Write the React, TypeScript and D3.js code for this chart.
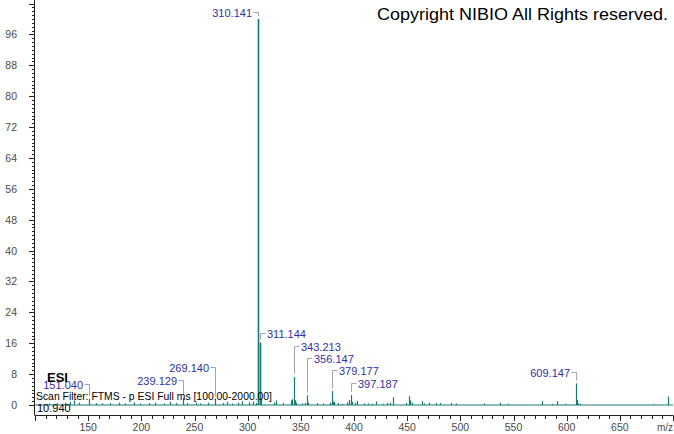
import React from "react";
import * as d3 from "d3";

// ---- data ----
const peakMz = [
  105, 113, 121, 128, 133, 137, 141, 151.04, 157, 163, 171, 179, 185, 193, 199, 207, 213, 221, 227, 233,
  239.129, 243, 251, 255, 263, 269.14, 277, 281, 285, 291, 295, 301, 305, 308, 310.141, 311.144, 312.14,
  325, 327, 333, 341, 342, 343.213, 344.2, 345, 351, 354, 356.147, 357, 365, 371, 377, 379.177, 380.2, 381,
  385, 389, 393, 395, 397.187, 398, 401, 403, 409, 413, 417, 421, 427, 431, 434, 437, 449, 452, 453, 455,
  464, 466, 471, 477, 481, 491, 496, 522, 537, 545, 577, 586, 591, 598, 609.147, 610.15, 611, 613, 681, 695,
];
const peakIntensity = [
  0.3, 0.4, 0.5, 0.6, 0.8, 1.2, 0.6, 1.6, 0.5, 0.4, 0.5, 0.6, 0.4, 0.7, 0.4, 0.5, 0.6, 0.4, 0.8, 0.5,
  1.8, 0.5, 0.6, 0.4, 0.6, 1.4, 0.5, 0.8, 0.4, 0.6, 1.0, 0.7, 0.9, 0.5, 100, 16.2, 1.6,
  0.6, 1.2, 0.5, 1.2, 1.5, 7.3, 1.2, 0.6, 0.4, 0.5, 2.5, 0.6, 0.5, 0.4, 0.6, 3.6, 0.9, 0.8,
  0.5, 0.3, 0.7, 1.3, 2.6, 0.8, 0.6, 1.1, 0.4, 0.4, 0.3, 0.9, 0.3, 0.5, 0.6, 2.0, 0.5, 2.3, 1.2, 0.6,
  1.0, 0.4, 0.6, 0.5, 0.5, 0.5, 0.4, 0.4, 0.6, 0.3, 1.0, 0.3, 1.0, 0.3, 5.6, 1.3, 0.4, 0.3, 0.2, 2.2,
];

const labelMz = [310.141, 311.144, 343.213, 356.147, 379.177, 397.187, 609.147, 269.14, 239.129, 151.04];
const labelPeak = [100, 16.2, 7.3, 2.5, 3.6, 2.6, 5.6, 1.4, 1.8, 1.6];
const labelLevel = [101.8, 18.7, 15.3, 12.2, 9.1, 5.7, 8.5, 9.8, 6.5, 5.4];
const labelSide = ["left", "right", "right", "right", "right", "right", "left", "left", "left", "left"];

const yTicks = [0, 8, 16, 24, 32, 40, 48, 56, 64, 72, 80, 88, 96];
const xTicks = [150, 200, 250, 300, 350, 400, 450, 500, 550, 600, 650];

const W = 674;
const H = 434;

export default function App() {
  const x = d3.scaleLinear().domain([100, 700]).range([35, 673]);
  const y = d3.scaleLinear().domain([0, 100]).range([405, 19]);

  const peakColor = "#167a72";
  const labelColor = "#2f2fa8";
  const bracketColor = "#a2a2b8";
  const axisColor = "#222";
  const tickText = "#4a4a4a";
  const font = "'Liberation Sans', Arial, sans-serif";

  const minorY = d3.range(0, 105, 1);
  const minorX = d3.range(100, 701, 10);

  return (
    <svg
      width={W}
      height={H}
      style={{ position: "absolute", left: 0, top: 0, background: "#fff" }}
      fontFamily={font}
    >
      <rect x={0} y={0} width={W} height={H} fill="#fff" />

      {/* baseline */}
      <line x1={x(100)} x2={x(700)} y1={y(0)} y2={y(0)} stroke={peakColor} strokeWidth={1} />
      {/* peaks */}
      {peakMz.map((m, i) => (
        <line
          key={"p" + i}
          x1={Math.round(x(m)) + 0.5}
          x2={Math.round(x(m)) + 0.5}
          y1={y(0)}
          y2={y(peakIntensity[i])}
          stroke={peakColor}
          strokeWidth={peakIntensity[i] > 10 ? 1.6 : 1.2}
        />
      ))}

      {/* labels with brackets */}
      {labelMz.map((m, i) => {
        const px = Math.round(x(m)) + 0.5;
        const ly = Math.round(y(labelLevel[i])) + 0.5;
        const top = y(labelPeak[i]) - 3;
        const left = labelSide[i] === "left";
        const hx = left ? px - 5 : px + 5;
        return (
          <g key={"l" + i}>
            <path
              d={`M${hx},${ly}H${px}V${Math.max(top, ly)}`}
              fill="none"
              stroke={bracketColor}
              strokeWidth={1}
            />
            <text
              x={left ? hx - 1.5 : hx + 1.5}
              y={ly + 4}
              textAnchor={left ? "end" : "start"}
              fontSize={11}
              fill={labelColor}
            >
              {m.toFixed(3)}
            </text>
          </g>
        );
      })}

      {/* y axis */}
      <line x1={34.5} x2={34.5} y1={0} y2={415} stroke={axisColor} strokeWidth={1} />
      {minorY.map((v) => (
        <line
          key={"my" + v}
          x1={v % 8 === 0 ? 29 : 32}
          x2={34.5}
          y1={Math.round(y(v)) + 0.5}
          y2={Math.round(y(v)) + 0.5}
          stroke={axisColor}
          strokeWidth={1}
        />
      ))}
      {yTicks.map((v) => (
        <text key={"yt" + v} x={17} y={y(v) + 4} textAnchor="end" fontSize={10.5} fill={tickText}>
          {v}
        </text>
      ))}

      {/* x axis */}
      <line x1={34.5} x2={673} y1={415.5} y2={415.5} stroke={axisColor} strokeWidth={1} />
      {minorX.map((v) => (
        <line
          key={"mx" + v}
          x1={Math.round(x(v)) + 0.5}
          x2={Math.round(x(v)) + 0.5}
          y1={415.5}
          y2={v % 50 === 0 ? 421 : 419}
          stroke={axisColor}
          strokeWidth={1}
        />
      ))}
      {xTicks.map((v) => (
        <text key={"xt" + v} x={x(v)} y={431} textAnchor="middle" fontSize={10.5} fill={tickText}>
          {v}
        </text>
      ))}
      <text x={665} y={431} textAnchor="middle" fontSize={10} fill={tickText}>
        m/z
      </text>

      {/* annotations */}
      <text
        x={377}
        y={20}
        fontSize={17}
        fill="#000"
        textLength={291}
        lengthAdjust="spacingAndGlyphs"
      >
        Copyright NIBIO All Rights reserved.
      </text>
      <text x={47} y={382} fontSize={13} fontWeight="bold" fill="#000">
        ESI
      </text>
      <text x={36} y={400} fontSize={11} fill="#000" textLength={236} lengthAdjust="spacingAndGlyphs">
        Scan Filter: FTMS - p ESI Full ms [100.00-2000.00]
      </text>
      <text x={37} y={412} fontSize={11} fill="#000">
        10.940
      </text>
    </svg>
  );
}
